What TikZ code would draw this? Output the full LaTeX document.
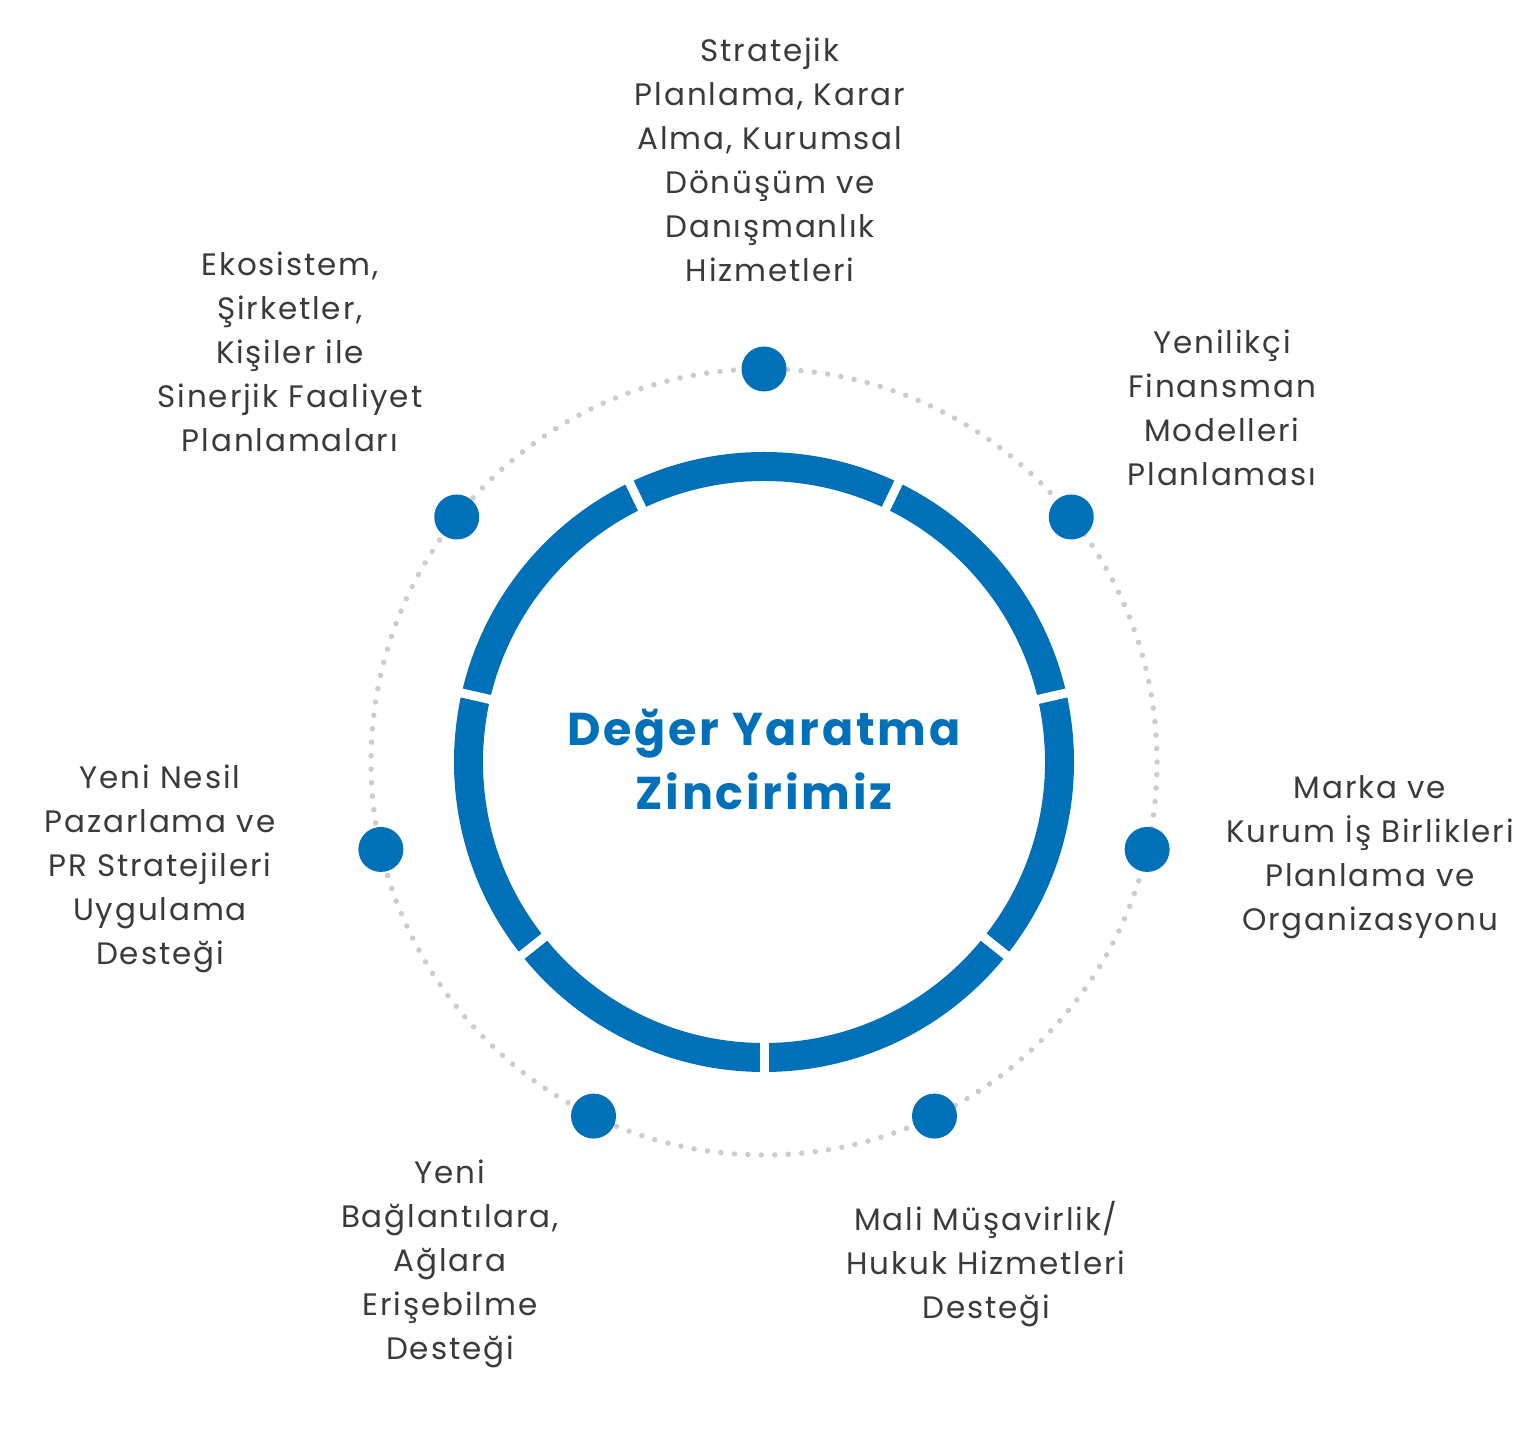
\documentclass[tikz,border=0pt]{standalone}
\usepackage{fontspec}
\setmainfont{Poppins}
\newfontfamily\lblfont[LetterSpace=6]{Poppins}
\newfontfamily\ttlfont[LetterSpace=6]{Poppins}
\usetikzlibrary{calc}
\definecolor{ringblue}{HTML}{0070B8}
\definecolor{txtgray}{HTML}{3A3A3A}
\definecolor{dotgray}{HTML}{CCCCCC}
\tikzset{
  bigdot/.style={circle, fill=ringblue, minimum size=45pt, inner sep=0pt},
  lbl/.style={align=center, text=txtgray, font=\lblfont\fontsize{31}{44}\selectfont, inner sep=0pt},
  ttl/.style={align=center, text=ringblue, font=\ttlfont\bfseries\fontsize{46}{64}\selectfont, inner sep=0pt}
}
\begin{document}
\begin{tikzpicture}[x=1pt,y=1pt]
\useasboundingbox (0,0) rectangle (1531,1430);
\coordinate (c) at (764,668);
% dotted circle
\draw[dotgray, line width=5.5pt, line cap=round, dash pattern=on 0pt off 13.5pt] (c) circle (393);
% ring
\draw[ringblue, line width=29pt] (c) circle (295.5);
\foreach \a in {270,321.43,12.86,64.29,115.71,167.14,218.57}
  \draw[white, line width=9pt] ($(c)+(\a:272)$) -- ($(c)+(\a:320)$);
% dots
\node[bigdot] (d1) at ($(c)+(90:393)$) {};
\node[bigdot] (d2) at ($(c)+(38.57:393)$) {};
\node[bigdot] (d3) at ($(c)+(-12.86:393)$) {};
\node[bigdot] (d4) at ($(c)+(-64.29:393)$) {};
\node[bigdot] (d5) at ($(c)+(-115.71:393)$) {};
\node[bigdot] (d6) at ($(c)+(-167.14:393)$) {};
\node[bigdot] (d7) at ($(c)+(141.43:393)$) {};
% title
\node[ttl] (title) at (764,671) {Değer Yaratma\\Zincirimiz};
% labels
\node[lbl] (l1) at (770,1270) {Stratejik\\Planlama, Karar\\Alma, Kurumsal\\Dönüşüm ve\\Danışmanlık\\Hizmetleri};
\node[lbl] (l2) at (1222,1022) {Yenilikçi\\Finansman\\Modelleri\\Planlaması};
\node[lbl] (l3) at (1370,573) {Marka ve\\Kurum İş Birlikleri\\Planlama ve\\Organizasyonu};
\node[lbl] (l4) at (986,166) {Mali Müşavirlik/\\Hukuk Hizmetleri\\Desteği};
\node[lbl] (l5) at (450,166) {Yeni\\Bağlantılara,\\Ağlara\\Erişebilme\\Desteği};
\node[lbl] (l6) at (160,561) {Yeni Nesil\\Pazarlama ve\\PR Stratejileri\\Uygulama\\Desteği};
\node[lbl] (l7) at (290,1078) {Ekosistem,\\Şirketler,\\Kişiler ile\\Sinerjik Faaliyet\\Planlamaları};
\end{tikzpicture}
\end{document}
